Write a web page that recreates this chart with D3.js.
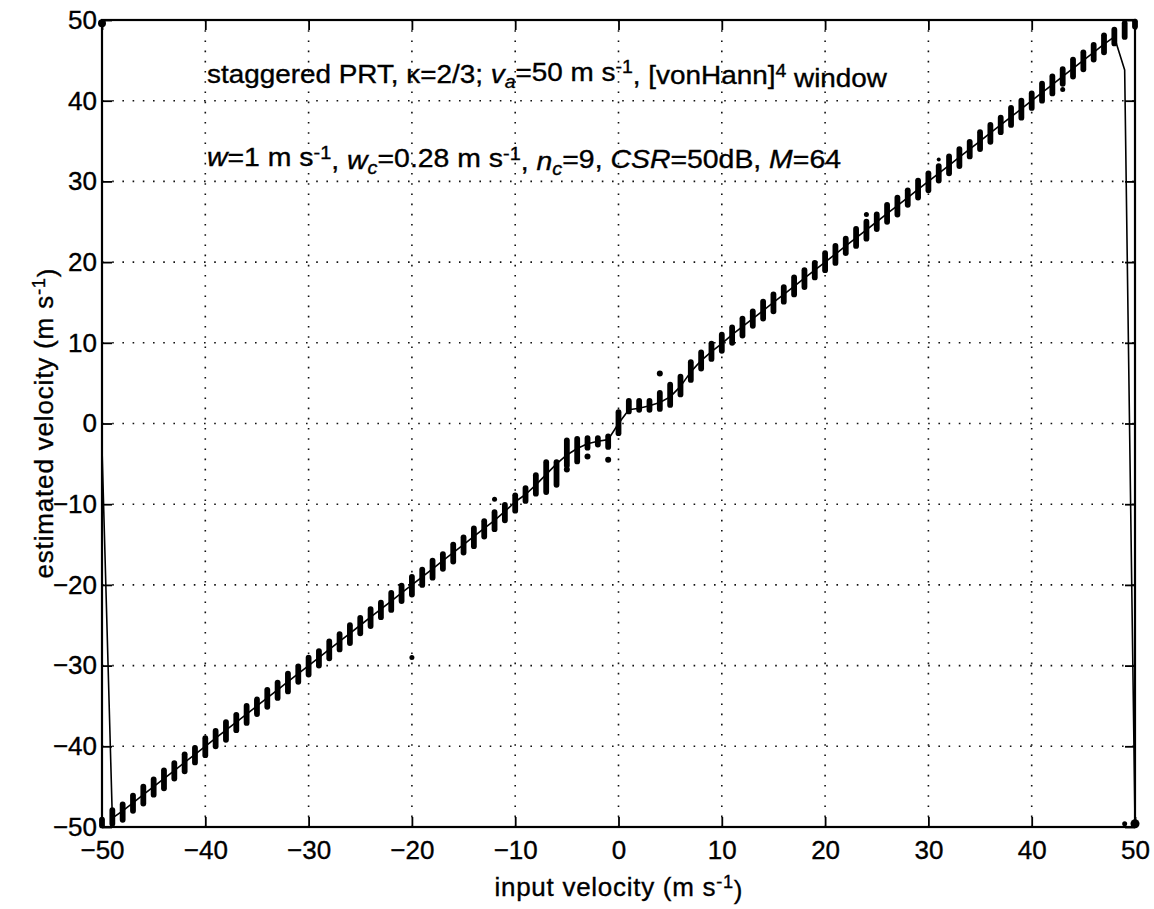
<!DOCTYPE html>
<html>
<head>
<meta charset="utf-8">
<script src="https://cdn.jsdelivr.net/npm/d3@7"></script>
<style>
  body { margin: 0; background: #fff; }
  svg { display: block; }
  text { font-family: "Liberation Sans", Arial, Helvetica, sans-serif; fill: #000; stroke: #000; stroke-width: 0.35; }
</style>
</head>
<body>
<div id="chart"></div>
<script>
// input velocities (m/s)
const vel = [
  -50, -49, -48, -47, -46, -45, -44, -43, -42, -41,
  -40, -39, -38, -37, -36, -35, -34, -33, -32, -31,
  -30, -29, -28, -27, -26, -25, -24, -23, -22, -21,
  -20, -19, -18, -17, -16, -15, -14, -13, -12, -11,
  -10, -9, -8, -7, -6, -5, -4, -3, -2, -1,
  0, 1, 2, 3, 4, 5, 6, 7, 8, 9,
  10, 11, 12, 13, 14, 15, 16, 17, 18, 19,
  20, 21, 22, 23, 24, 25, 26, 27, 28, 29,
  30, 31, 32, 33, 34, 35, 36, 37, 38, 39,
  40, 41, 42, 43, 44, 45, 46, 47, 48, 49,
  50
];

// mean estimated velocity (solid line)
const meanEst = [
  -3, -48.9, -48.0, -47.0, -46.0, -45.0, -44.0, -43.0, -42.0, -41.0,
  -40.0, -39.0, -38.0, -37.0, -36.0, -35.0, -34.0, -33.0, -32.0, -31.0,
  -30.0, -29.0, -28.0, -27.0, -26.0, -25.0, -24.0, -23.0, -22.0, -21.0,
  -20.0, -19.0, -18.0, -17.0, -16.0, -15.0, -14.0, -13.0, -12.0, -10.9,
  -9.7, -8.8, -7.6, -6.3, -5.0, -3.9, -3.1, -2.5, -2.2, -2.0,
  0.0, 1.7, 1.9, 2.2, 2.6, 3.3, 4.6, 6.4, 7.8, 8.9,
  9.9, 11.0, 12.0, 13.0, 14.0, 15.0, 16.0, 17.0, 18.0, 19.0,
  20.0, 21.0, 22.0, 23.0, 24.0, 25.0, 26.0, 27.0, 28.0, 29.0,
  30.0, 31.0, 32.0, 33.0, 34.0, 35.0, 36.0, 37.0, 38.0, 39.0,
  40.0, 41.0, 42.0, 43.0, 44.0, 45.0, 46.0, 47.0, 47.9, 43.8,
  -49.5
];

// spread of the single estimates at each input velocity (dot clusters)
const clusterLo = [
  -49.8, -49.6, -49.1, -48.0, -47.1, -46.0, -45.2, -44.0, -43.1, -42.0,
  -41.1, -40.0, -39.2, -38.0, -37.1, -36.0, -35.1, -34.0, -33.2, -32.0,
  -31.1, -30.0, -29.1, -28.0, -27.2, -26.0, -25.1, -24.0, -23.1, -22.0,
  -21.2, -20.0, -19.1, -18.0, -17.1, -16.0, -15.2, -14.0, -13.1, -12.0,
  -10.8, -9.6, -8.7, -8.5, -7.6, -5.2, -4.7, -3.0, -2.6, -2.9,
  -1.2, 1.5, 1.7, 1.7, 1.8, 2.3, 3.6, 5.4, 6.8, 8.0,
  9.0, 10.0, 10.9, 12.1, 13.0, 13.9, 15.1, 16.0, 16.9, 18.1,
  19.0, 19.9, 21.1, 22.0, 22.9, 24.1, 25.0, 25.9, 27.1, 28.0,
  28.9, 30.1, 31.0, 31.9, 33.1, 34.0, 34.9, 36.1, 37.0, 37.9,
  39.1, 40.0, 40.9, 42.1, 43.0, 43.9, 45.1, 46.0, 47.1, 47.9,
  49.2
];
const clusterHi = [
  -49.1, -47.9, -47.2, -46.1, -45.0, -44.1, -43.0, -42.1, -41.0, -40.2,
  -39.0, -38.1, -37.0, -36.1, -35.0, -34.2, -33.0, -32.1, -31.0, -30.1,
  -29.0, -28.2, -27.0, -26.1, -25.0, -24.1, -23.0, -22.2, -21.0, -20.1,
  -19.0, -18.1, -17.0, -16.2, -15.0, -14.1, -13.0, -12.1, -11.0, -10.1,
  -8.9, -8.0, -6.4, -4.8, -4.8, -2.1, -1.9, -1.8, -1.8, -1.6,
  1.4, 2.8, 2.8, 2.8, 3.8, 4.8, 5.8, 7.6, 8.8, 9.9,
  11.0, 11.9, 13.0, 13.9, 15.1, 16.0, 16.9, 18.1, 19.0, 19.9,
  21.1, 22.0, 22.9, 24.1, 25.0, 25.9, 27.1, 28.0, 28.9, 30.1,
  31.0, 31.9, 33.1, 34.0, 34.9, 36.1, 37.0, 37.9, 39.1, 40.0,
  40.9, 42.1, 43.0, 43.9, 45.1, 46.0, 46.9, 48.1, 48.8, 49.6,
  49.8
];

// isolated estimates
const strayVel = [-50, 50, 49, -20, -12, -5, -3, -1, 4, 24, 31, 43];
const strayEst = [49.6, -49.6, -49.6, -29, -9.4, -5.7, -4.1, -4.5, 6.2, 25.9, 32.7, 41.4];
const straySize = [4, 4.5, 2.5, 2.5, 2.5, 3, 3, 3, 3, 2.5, 2, 2.5];

const xTicks = [-50, -40, -30, -20, -10, 0, 10, 20, 30, 40, 50];
const yTicks = [-50, -40, -30, -20, -10, 0, 10, 20, 30, 40, 50];

const svgWidth = 1154, svgHeight = 909;
const plot = { left: 102, right: 1135, top: 20, bottom: 827 };

const svg = d3.select("#chart").append("svg")
  .attr("width", svgWidth)
  .attr("height", svgHeight);

const x = d3.scaleLinear().domain([-50, 50]).range([plot.left, plot.right]);
const y = d3.scaleLinear().domain([-50, 50]).range([plot.bottom, plot.top]);

// dotted grid
const grid = svg.append("g")
  .attr("stroke", "#111")
  .attr("stroke-width", 1.6)
  .attr("stroke-dasharray", "1.6,8.6");
grid.selectAll(".gx").data(xTicks.slice(1, -1)).enter().append("line")
  .attr("x1", d => x(d)).attr("x2", d => x(d))
  .attr("y1", plot.top).attr("y2", plot.bottom);
grid.selectAll(".gy").data(yTicks.slice(1, -1)).enter().append("line")
  .attr("y1", d => y(d)).attr("y2", d => y(d))
  .attr("x1", plot.left).attr("x2", plot.right);

// axes, ticks pointing inward
const fmt = d3.format("d");
const axB = svg.append("g").attr("transform", "translate(0," + plot.bottom + ")")
  .call(d3.axisBottom(x).tickValues(xTicks).tickSize(-10).tickPadding(14).tickFormat(fmt));
const axL = svg.append("g").attr("transform", "translate(" + plot.left + ",0)")
  .call(d3.axisLeft(y).tickValues(yTicks).tickSize(-10).tickPadding(5).tickFormat(fmt));
const axT = svg.append("g").attr("transform", "translate(0," + plot.top + ")")
  .call(d3.axisTop(x).tickValues(xTicks).tickSize(-10).tickFormat(""));
const axR = svg.append("g").attr("transform", "translate(" + plot.right + ",0)")
  .call(d3.axisRight(y).tickValues(yTicks).tickSize(-10).tickFormat(""));

[axB, axL, axT, axR].forEach(a => {
  a.select(".domain").remove();
  a.selectAll(".tick line").attr("stroke", "#000").attr("stroke-width", 1.8);
  a.selectAll("text").attr("font-size", 26).attr("fill", "#000")
    .style("font-family", '"Liberation Sans", Arial, sans-serif');
});

svg.append("rect")
  .attr("x", plot.left).attr("y", plot.top)
  .attr("width", plot.right - plot.left).attr("height", plot.bottom - plot.top)
  .attr("fill", "none").attr("stroke", "#000").attr("stroke-width", 2.2);

// clusters of single estimates
svg.append("g").selectAll("line")
  .data(vel.map((v, i) => [v, clusterLo[i], clusterHi[i]]))
  .enter().append("line")
  .attr("x1", d => x(d[0])).attr("x2", d => x(d[0]))
  .attr("y1", d => y(d[1])).attr("y2", d => y(d[2]))
  .attr("stroke", "#000")
  .attr("stroke-width", 5.8)
  .attr("stroke-linecap", "round");

svg.append("g").selectAll("circle")
  .data(strayVel.map((v, i) => [v, strayEst[i], straySize[i]]))
  .enter().append("circle")
  .attr("cx", d => x(d[0])).attr("cy", d => y(d[1]))
  .attr("r", d => d[2])
  .attr("fill", "#000");

// mean estimate
const line = d3.line().x(d => x(d[0])).y(d => y(d[1]));
svg.append("path")
  .datum(vel.map((v, i) => [v, meanEst[i]]))
  .attr("d", line)
  .attr("fill", "none")
  .attr("stroke", "#000")
  .attr("stroke-width", 1.6)
  .attr("stroke-linejoin", "round");

// rich text helper: parts = [text, italic, shift(-1 sub, 1 sup)]
function richText(sel, parts) {
  let prev = 0;
  parts.forEach(p => {
    const shift = p[2] || 0;
    const ts = sel.append("tspan").text(p[0]);
    const off = shift === 1 ? -0.42 : shift === -1 ? 0.3 : 0;
    const prevOff = prev === 1 ? -0.42 : prev === -1 ? 0.3 : 0;
    const dy = (off - prevOff);
    if (dy !== 0) ts.attr("dy", dy + "em");
    if (shift !== 0) ts.attr("font-size", "70%");
    if (p[1]) ts.attr("font-style", "italic");
    prev = shift;
  });
}

const note1 = svg.append("text")
  .attr("x", 207).attr("y", 83)
  .attr("font-size", 25)
  .attr("textLength", 680).attr("lengthAdjust", "spacingAndGlyphs");
richText(note1, [
  ["staggered PRT, κ=2/3; "], ["v", 1], ["a", 1, -1], ["=50 m s"], ["-1", 0, 1],
  [", [vonHann]"], ["4", 0, 1], [" window"]
]);

const note2 = svg.append("text")
  .attr("x", 207).attr("y", 166)
  .attr("font-size", 25)
  .attr("textLength", 634).attr("lengthAdjust", "spacingAndGlyphs");
richText(note2, [
  ["w", 1], ["=1 m s"], ["-1", 0, 1], [", "], ["w", 1], ["c", 1, -1], ["=0.28 m s"], ["-1", 0, 1],
  [", "], ["n", 1], ["c", 1, -1], ["=9, "], ["CSR", 1], ["=50dB, "], ["M", 1], ["=64"]
]);

const xlab = svg.append("text")
  .attr("x", (plot.left + plot.right) / 2).attr("y", 896)
  .attr("text-anchor", "middle")
  .attr("font-size", 26)
  .attr("textLength", 248);
richText(xlab, [["input velocity (m s"], ["-1", 0, 1], [")"]]);

const ylab = svg.append("text")
  .attr("transform", "translate(53," + (plot.top + plot.bottom) / 2 + ") rotate(-90)")
  .attr("text-anchor", "middle")
  .attr("font-size", 26)
  .attr("textLength", 310);
richText(ylab, [["estimated velocity (m s"], ["-1", 0, 1], [")"]]);
</script>
</body>
</html>
